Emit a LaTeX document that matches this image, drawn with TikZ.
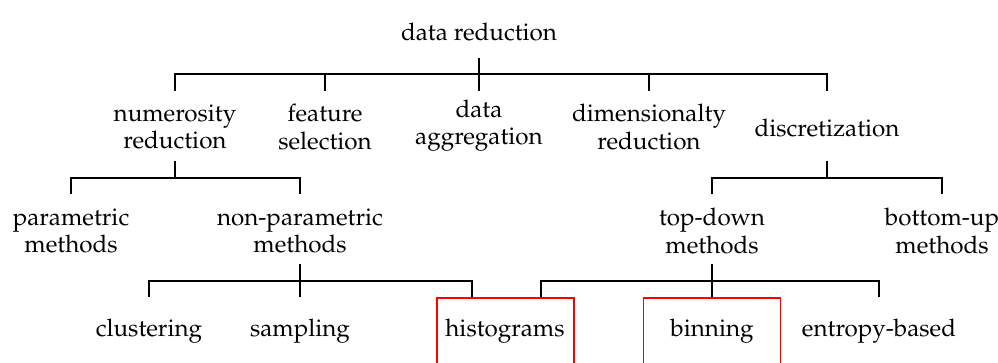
\documentclass[tikz,border=0pt]{standalone}
\usepackage[T1]{fontenc}
\usepackage{mathpazo}
\begin{document}
\begin{tikzpicture}[x=0.5pt,y=-0.5pt,
  lbl/.style={inner sep=0pt,align=center,font=\fontsize{12.1}{13.6}\selectfont},
  hl/.style={draw=red,line width=0.6pt,minimum width=68.5pt,minimum height=33.5pt,inner sep=0pt},
  br/.style={line width=0.55pt}]
\useasboundingbox (0,0) rectangle (998,363);
\clip (0,0) rectangle (998,363);
% nodes
\node[lbl] (dr) at (479,32) {data reduction};
\node[lbl] (nr) at (175,127) {numerosity\\reduction};
\node[lbl] (fs) at (325,127) {feature\\selection};
\node[lbl] (da) at (479,126) {data\\aggregation};
\node[lbl] (dim) at (649,127) {dimensionalty\\reduction};
\node[lbl] (disc) at (827,128) {discretization};
\node[lbl] (pm) at (71,231) {parametric\\methods};
\node[lbl] (npm) at (300,231) {non-parametric\\methods};
\node[lbl] (td) at (712,231) {top-down\\methods};
\node[lbl] (bu) at (942,231) {bottom-up\\methods};
\node[lbl] (cl) at (149,331) {clustering};
\node[lbl] (sa) at (300,331) {sampling};
\node[lbl] (hi) at (505,331) {histograms};
\node[lbl] (bi) at (712,331) {binning};
\node[lbl] (en) at (879,331) {entropy-based};
\node[hl] (hibox) at (505.5,331.5) {};
\node[hl] (bibox) at (712,331.5) {};
% coordinates for bars
\coordinate (c1) at (479,58);
\coordinate (c2) at (175,161);
\coordinate (c3) at (827,161);
\coordinate (c4) at (300,264);
\coordinate (c5) at (712,264);
% level 1
\draw[br] (c1) -- (479,91);
\draw[br] (175,91) -- (175,74) -- (827,74) -- (827,91);
\draw[br] (325,74) -- (325,91);
\draw[br] (649,74) -- (649,91);
% numerosity
\draw[br] (c2) -- (175,178);
\draw[br] (71,194) -- (71,178) -- (300,178) -- (300,194);
% discretization
\draw[br] (c3) -- (827,178);
\draw[br] (712,194) -- (712,178) -- (942,178) -- (942,194);
% non-parametric
\draw[br] (c4) -- (300,297);
\draw[br] (149,297) -- (149,281) -- (472,281) -- (472,297);
% top-down
\draw[br] (c5) -- (712,297);
\draw[br] (541,297) -- (541,281) -- (879,281) -- (879,297);
\end{tikzpicture}
\end{document}
